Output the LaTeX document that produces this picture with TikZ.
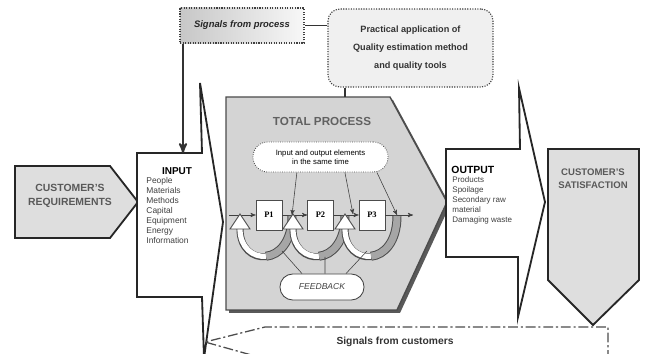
\documentclass[tikz,border=0pt]{standalone}
\usepackage{fontspec}
\setmainfont{Liberation Sans}
\newfontfamily\pfont{Liberation Serif}
\usetikzlibrary{arrows,shapes}

\begin{document}
\begin{tikzpicture}[x=0.025cm,y=-0.025cm,>=stealth',semithick]
\tikzstyle{bigshape}=[draw=black!85,line width=1.3pt,line join=miter]
\tikzstyle{graybox}=[bigshape,fill=black!13]
\tikzstyle{bigtext}=[text=black!65,font=\bfseries\fontsize{7.4}{9.5}\selectfont,align=center]
\tikzstyle{listtext}=[text=black!75,align=left,anchor=north west,inner sep=0pt]
\tikzstyle{pbox}=[draw=black!70,fill=white,thin,minimum width=0.65cm,minimum height=0.75cm,inner sep=0pt,font=\pfont\bfseries\fontsize{6}{6}\selectfont]
\tikzstyle{band outer}=[draw=black!70,line width=5pt]
\tikzstyle{band inner}=[line width=3.7pt]
\tikzstyle{link}=[draw=black!75,thin]
\clip (0,0) rectangle (647,354);

\draw[graybox] (15,166) -- (110,166) -- (138,202) -- (110,238) -- (15,238) -- cycle;
\node[bigtext] (req) at (70,196) {CUSTOMER'S\\REQUIREMENTS};

\draw[bigshape,fill=white] (137,153) -- (202,153) -- (200,83) -- (223,222) -- (204,358) -- (202,297) -- (137,297) -- cycle;
\node[font=\bfseries\fontsize{7.1}{8}\selectfont] (intitle) at (177,171) {INPUT};
\node[listtext,font=\fontsize{6}{7.1}\selectfont] (inlist) at (146,177)
  {People\\Materials\\Methods\\Capital\\Equipment\\Energy\\Information};

\fill[black!65] (229,100) -- (393,100) -- (450,205) -- (400,313) -- (229,313) -- cycle;
\draw[draw=black!70,line width=1pt,fill=black!17] (226,97) -- (390,97) -- (447,202) -- (397,310) -- (226,310) -- cycle;
\node[text=black!62,font=\bfseries\fontsize{8.3}{9}\selectfont] (tptitle) at (322,121) {TOTAL PROCESS};

\draw[bigshape,fill=white] (446,149) -- (520,149) -- (519,88) -- (545,202) -- (518,317) -- (518,257) -- (446,257) -- cycle;
\node[font=\bfseries\fontsize{7.4}{8}\selectfont,anchor=west,inner sep=0pt] (outtitle) at (451,170) {OUTPUT};
\node[listtext,font=\fontsize{5.7}{7.1}\selectfont] (outlist) at (452,176)
  {Products\\Spoilage\\Secondary raw\\material\\Damaging waste};

\draw[graybox] (548,149) -- (639,149) -- (639,280) -- (593,325) -- (548,280) -- cycle;
\node[bigtext,font=\bfseries\fontsize{6.8}{9}\selectfont] (sat) at (593,179) {CUSTOMER'S\\SATISFACTION};

\node[draw=black!75,densely dotted,thick,left color=black!22,right color=black!3,minimum width=3.1cm,minimum height=0.875cm,
  font=\bfseries\itshape\fontsize{6.7}{8}\selectfont,text=black!85] (sigproc) at (242,25.5) {Signals from process};
\node[draw=black!75,densely dotted,thick,fill=black!6,rounded corners=0.3cm,minimum width=4.125cm,minimum height=1.95cm,
  align=center,font=\bfseries\fontsize{6.5}{13}\selectfont,text=black!80] (practical) at (410.5,48)
  {Practical application of\\Quality estimation method\\and quality tools};

\coordinate (intop) at (183,153);
\coordinate (tptop) at (345,97);
\draw[->,line width=1.4pt,draw=black!80] (intop |- sigproc.south) -- (intop);
\draw[line width=1.4pt,draw=black!80] (sigproc.east) -- (sigproc.east -| practical.west);
\draw[line width=1.1pt,draw=black!80] (tptop |- practical.south) -- (tptop);

\node[draw=black!70,densely dotted,fill=white,rounded corners=0.37cm,minimum width=3.375cm,minimum height=0.75cm,
  align=center,font=\fontsize{5.5}{6.6}\selectfont] (elements) at (320.5,157) {Input and output elements\\in the same time};

\node[pbox] (P1) at (269,215) {P1};
\node[pbox] (P2) at (320.5,215) {P2};
\node[pbox] (P3) at (372,215) {P3};
\coordinate (fin) at (229,215);
\coordinate (fout) at (413,215);
\draw[->,link] (fin) -- (P1);
\draw[->,link] (P1) -- (P2);
\draw[->,link] (P2) -- (P3);
\draw[->,link] (P3) -- (fout);

\foreach \xs in {292,345,397} {
  \pgfmathsetmacro{\xe}{\xs-52}
  \pgfmathsetmacro{\xm}{(\xs+\xe)/2}
  \pgfmathsetmacro{\xa}{(3*\xs+\xe)/4}
  \pgfmathsetmacro{\xb}{(\xs+3*\xe)/4}
  \draw[band outer] (\xs,216) .. controls (\xs,268) and (\xe,268) .. (\xe,229);
  \draw[band outer,line width=6.4pt] (\xs,216) .. controls (\xs,242) and (\xa,255) .. (\xm,256.25);
  \draw[band inner,white] (\xm,256.25) .. controls (\xb,257.5) and (\xe,247.5) .. (\xe,229);
  \draw[band inner,line width=5pt,black!35] (\xs,216) .. controls (\xs,242) and (\xa,255) .. (\xm,256.25);
  \draw[draw=black!70,fill=white,line join=miter] (\xe-10,229) -- (\xe,214) -- (\xe+10,229) -- cycle;
}

\coordinate (in1) at (292,215);
\coordinate (in2) at (353,214);
\coordinate (in3) at (397,215);
\draw[->,link] ([xshift=-0.59cm]elements.south) -- (in1);
\draw[->,link] ([xshift=0.61cm]elements.south) -- (in2);
\draw[->,link] ([xshift=1.41cm]elements.south) -- (in3);

\node[draw=black!75,fill=white,rounded corners=0.32cm,minimum width=2.1cm,minimum height=0.65cm,
  font=\itshape\fontsize{6.1}{7}\selectfont,text=black!75] (feedback) at (322,287) {FEEDBACK};
\coordinate (b1) at (282,251);
\coordinate (b2) at (325,257);
\coordinate (b3) at (367,251);
\draw[link] ([xshift=-0.5cm]feedback.north) -- (b1);
\draw[link] ([xshift=0.075cm]feedback.north) -- (b2);
\draw[link] ([xshift=0.6cm]feedback.north) -- (b3);

\draw[draw=black!70,line width=0.9pt,dash pattern=on 7pt off 2pt on 1.5pt off 2pt]
  (608,360) -- (608,327) -- (265,327) -- (205,342) -- (255,356);
\node[font=\bfseries\fontsize{7.3}{8}\selectfont,text=black!80] (sigcust) at (395,342) {Signals from customers};
\end{tikzpicture}
\end{document}
